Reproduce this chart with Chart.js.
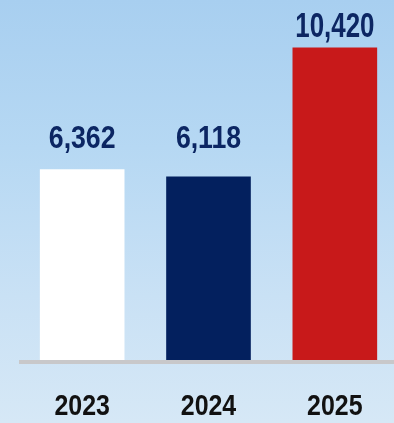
<!DOCTYPE html>
<html>
<head>
<meta charset="utf-8">
<script src="https://cdn.jsdelivr.net/npm/chart.js@4"></script>
<style>
  html, body { margin: 0; padding: 0; }
  body {
    width: 394px;
    height: 423px;
    overflow: hidden;
    background: linear-gradient(180deg, #a8cff0 0%, #b6d8f3 35%, #c9e1f5 70%, #d6e8f6 100%);
  }
  #wrap { width: 398px; height: 423px; position: relative; }
</style>
</head>
<body>
<div id="wrap"><canvas id="myChart" width="398" height="423"></canvas></div>
<script>
const years = ['2023', '2024', '2025'];
const totals = [6362, 6118, 10420];
const barColors = ['#ffffff', '#03205e', '#c8191a'];

const fmt = v => v.toLocaleString('en-US');

// condensed bold text: canvas has no narrow face, so squeeze horizontally
function squeezeText(ctx, text, x, y, size, squeeze, color) {
  ctx.save();
  ctx.font = 'bold ' + size + 'px "Liberation Sans", Arial, sans-serif';
  ctx.fillStyle = color;
  ctx.textAlign = 'center';
  ctx.textBaseline = 'alphabetic';
  ctx.translate(x, y);
  ctx.scale(squeeze, 1);
  ctx.fillText(text, 0, 0);
  ctx.restore();
}

// grey floor under the bars
const floorLine = {
  id: 'floorLine',
  beforeDatasetsDraw(chart) {
    const { ctx, chartArea } = chart;
    ctx.save();
    ctx.fillStyle = '#c8c8ca';
    ctx.fillRect(chartArea.left, chartArea.bottom, chart.width - chartArea.left, 4);
    ctx.restore();
  }
};

// value above each bar + year under the floor
const barText = {
  id: 'barText',
  afterDatasetsDraw(chart, args, opts) {
    const { ctx, chartArea } = chart;
    const meta = chart.getDatasetMeta(0);
    meta.data.forEach((bar, i) => {
      const v = chart.data.datasets[0].data[i];
      squeezeText(ctx, fmt(v), bar.x, bar.y - opts.gaps[i], opts.sizes[i], opts.squeeze[i], '#0c2663');
      squeezeText(ctx, chart.data.labels[i], bar.x, chartArea.bottom + 55, 29, 0.86, '#111111');
    });
  }
};

const ctx = document.getElementById('myChart').getContext('2d');
const myChart = new Chart(ctx, {
  type: 'bar',
  data: {
    labels: years,
    datasets: [{
      data: totals,
      backgroundColor: barColors,
      borderWidth: 0,
      barPercentage: 0.67,
      categoryPercentage: 1
    }]
  },
  options: {
    responsive: false,
    animation: false,
    layout: { padding: { left: 19, right: 0, top: 0, bottom: 63 } },
    plugins: {
      legend: { display: false },
      tooltip: { enabled: false },
      barText: {
        gaps: [21, 28, 10],
        sizes: [31, 31, 35],
        squeeze: [0.86, 0.86, 0.74]
      }
    },
    scales: {
      x: { display: false },
      y: { display: false, min: 0, max: 12000 }
    }
  },
  plugins: [floorLine, barText]
});
</script>
</body>
</html>
